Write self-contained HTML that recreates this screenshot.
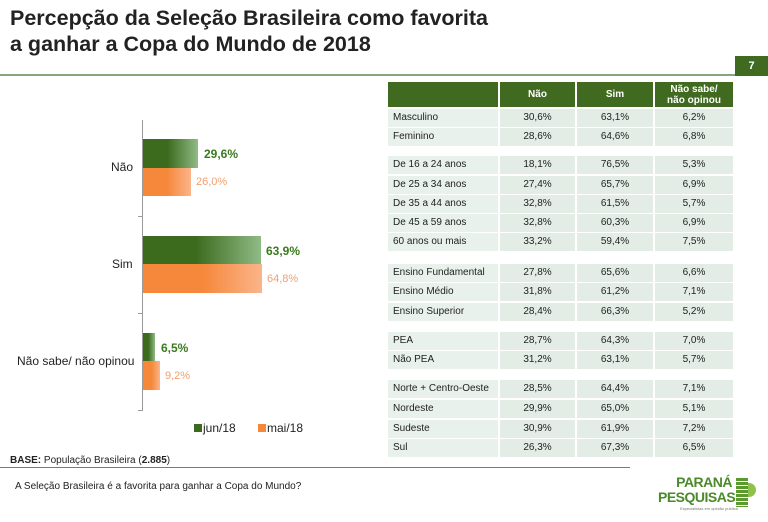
<!DOCTYPE html>
<html><head><meta charset="utf-8"><style>
body{margin:0;width:768px;height:522px;background:#fff;font-family:"Liberation Sans",sans-serif;position:relative;overflow:hidden}
.a{position:absolute}
.t{font-size:12px;color:#222}
.g{background:linear-gradient(90deg,#3d6b1e 0%,#3d6b1e 45%,#8fbb86 100%)}
.o{background:linear-gradient(90deg,#f5883b 0%,#f5883b 50%,#fbb48a 100%)}
.r{position:absolute;left:388px;height:18px;font-size:10px;color:#222;line-height:18px}
.r span{position:absolute;top:0;height:18px;background:#e3ede6;text-align:center}
.r span:nth-child(1){left:0;width:105px;padding-left:5px;text-align:left;background:#e9f1ec}
.r span:nth-child(2){left:112px;width:75px}
.r span:nth-child(3){left:189px;width:76px}
.r span:nth-child(4){left:267px;width:78px}
.h span{background:#3f6a1f;color:#fff;font-weight:bold;height:25px;line-height:11px;display:flex;align-items:center;justify-content:center}
.h span:nth-child(1){background:#3f6a1f}
</style></head><body>
<div class="a" style="left:10px;top:5px;font-size:21.5px;font-weight:bold;color:#222;line-height:26px">Percepção da Seleção Brasileira como favorita<br>a ganhar a Copa do Mundo de 2018</div>
<div class="a" style="left:0;top:74px;width:736px;height:2px;background:#8aa57a"></div>
<div class="a" style="left:735px;top:56px;width:33px;height:20px;background:#3f6a1f;color:#fff;font-size:11px;font-weight:bold;text-align:center;line-height:20px">7</div>

<div class="a" style="left:142px;top:120px;width:1px;height:291px;background:#999"></div>
<div class="a" style="left:138px;top:216px;width:4px;height:1px;background:#999"></div>
<div class="a" style="left:138px;top:313px;width:4px;height:1px;background:#999"></div>
<div class="a" style="left:138px;top:410px;width:4px;height:1px;background:#999"></div>

<div class="a g" style="left:143px;top:139px;width:55px;height:29px"></div>
<div class="a o" style="left:143px;top:168px;width:48px;height:28px"></div>
<div class="a g" style="left:143px;top:236px;width:118px;height:28px"></div>
<div class="a o" style="left:143px;top:264px;width:119px;height:29px"></div>
<div class="a g" style="left:143px;top:333px;width:12px;height:28px"></div>
<div class="a o" style="left:143px;top:361px;width:17px;height:29px"></div>

<div class="a t" style="left:111px;top:160px">Não</div>
<div class="a t" style="left:112px;top:257px">Sim</div>
<div class="a t" style="left:17px;top:354px">Não sabe/ não opinou</div>
<div class="a" style="left:204px;top:147px;font-size:12px;font-weight:bold;color:#3a7a1e">29,6%</div>
<div class="a" style="left:196px;top:176px;font-size:11px;color:#f0a070">26,0%</div>
<div class="a" style="left:266px;top:244px;font-size:12px;font-weight:bold;color:#3a7a1e">63,9%</div>
<div class="a" style="left:267px;top:273px;font-size:11px;color:#f0a070">64,8%</div>
<div class="a" style="left:161px;top:341px;font-size:12px;font-weight:bold;color:#3a7a1e">6,5%</div>
<div class="a" style="left:165px;top:370px;font-size:11px;color:#f0a070">9,2%</div>

<div class="a" style="left:194px;top:424px;width:8px;height:8px;background:#3d6b1e"></div>
<div class="a t" style="left:203px;top:421px">jun/18</div>
<div class="a" style="left:258px;top:424px;width:8px;height:8px;background:#f5883b"></div>
<div class="a t" style="left:267px;top:421px">mai/18</div>

<div class="r h" style="top:82px"><span></span><span>Não</span><span>Sim</span><span>Não sabe/<br>não opinou</span></div>
<div class="r" style="top:109px"><span>Masculino</span><span>30,6%</span><span>63,1%</span><span>6,2%</span></div>
<div class="r" style="top:128px"><span>Feminino</span><span>28,6%</span><span>64,6%</span><span>6,8%</span></div>
<div class="r" style="top:156px"><span>De 16 a 24 anos</span><span>18,1%</span><span>76,5%</span><span>5,3%</span></div>
<div class="r" style="top:176px"><span>De 25 a 34 anos</span><span>27,4%</span><span>65,7%</span><span>6,9%</span></div>
<div class="r" style="top:195px"><span>De 35 a 44 anos</span><span>32,8%</span><span>61,5%</span><span>5,7%</span></div>
<div class="r" style="top:214px"><span>De 45 a 59 anos</span><span>32,8%</span><span>60,3%</span><span>6,9%</span></div>
<div class="r" style="top:233px"><span>60 anos ou mais</span><span>33,2%</span><span>59,4%</span><span>7,5%</span></div>
<div class="r" style="top:264px"><span>Ensino Fundamental</span><span>27,8%</span><span>65,6%</span><span>6,6%</span></div>
<div class="r" style="top:283px"><span>Ensino Médio</span><span>31,8%</span><span>61,2%</span><span>7,1%</span></div>
<div class="r" style="top:303px"><span>Ensino Superior</span><span>28,4%</span><span>66,3%</span><span>5,2%</span></div>
<div class="r" style="top:332px"><span>PEA</span><span>28,7%</span><span>64,3%</span><span>7,0%</span></div>
<div class="r" style="top:351px"><span>Não PEA</span><span>31,2%</span><span>63,1%</span><span>5,7%</span></div>
<div class="r" style="top:380px"><span>Norte + Centro-Oeste</span><span>28,5%</span><span>64,4%</span><span>7,1%</span></div>
<div class="r" style="top:400px"><span>Nordeste</span><span>29,9%</span><span>65,0%</span><span>5,1%</span></div>
<div class="r" style="top:420px"><span>Sudeste</span><span>30,9%</span><span>61,9%</span><span>7,2%</span></div>
<div class="r" style="top:439px"><span>Sul</span><span>26,3%</span><span>67,3%</span><span>6,5%</span></div>

<div class="a" style="left:10px;top:455px;font-size:10px;color:#222"><b>BASE:</b> População Brasileira (<b>2.885</b>)</div>
<div class="a" style="left:0;top:467px;width:630px;height:1px;background:#6d8a55"></div>
<div class="a" style="left:15px;top:481px;font-size:10px;color:#222">A Seleção Brasileira é a favorita para ganhar a Copa do Mundo?</div>

<div class="a" style="left:658px;top:475px;width:74px;font-size:14px;font-weight:bold;color:#4a8a2a;text-align:right;line-height:15px;letter-spacing:-0.5px">PARANÁ<br>PESQUISAS</div>
<div class="a" style="left:680px;top:506px;font-size:4px;color:#777">Especialistas em opinião pública</div>
<div class="a" style="left:736px;top:478px;width:12px;height:29px;background:repeating-linear-gradient(180deg,#5b9a2e 0 3px,#fff 3px 4px)"></div>
<div class="a" style="left:748px;top:483px;width:8px;height:14px;background:#8fc24a;border-radius:0 7px 7px 0"></div>
</body></html>
